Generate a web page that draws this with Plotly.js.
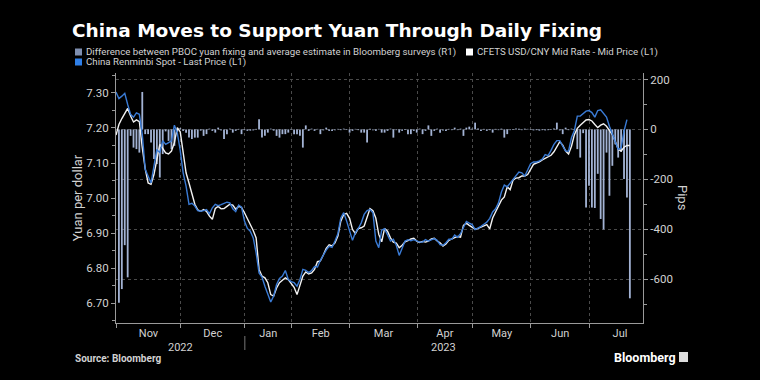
<!DOCTYPE html>
<html>
<head>
<meta charset="utf-8">
<script src="https://cdn.plot.ly/plotly-3.0.1.min.js"></script>
<style>
  html, body { margin: 0; padding: 0; background: #000; }
  #chart { width: 760px; height: 380px; }
</style>
</head>
<body>
<div id="chart"></div>
<script>
// ---------------- DATA ----------------
// China Renminbi Spot - Last Price (L1), one value per China trading day from 2022-10-31
const spot = [
  7.303,7.284,7.291,7.299,7.267,7.239,7.231,7.243,7.239,7.182,
  7.082,7.063,7.043,7.091,7.139,7.129,7.164,7.153,7.158,7.163,
  7.208,7.186,7.136,7.072,7.034,6.982,6.985,6.977,6.964,6.962,
  6.964,6.967,6.955,6.972,6.982,6.978,6.981,6.984,6.988,6.986,
  6.969,6.961,6.980,6.974,6.934,6.913,6.905,6.886,6.843,6.786,
  6.774,6.748,6.724,6.703,6.720,6.753,6.770,6.777,6.793,6.767,
  6.761,6.758,6.748,6.767,6.796,6.793,6.787,6.793,6.804,6.803,
  6.822,6.837,6.851,6.862,6.859,6.877,6.898,6.943,6.958,6.934,
  6.907,6.879,6.901,6.913,6.929,6.953,6.964,6.967,6.958,6.877,
  6.858,6.908,6.912,6.894,6.877,6.882,6.865,6.836,6.858,6.877,
  6.881,6.878,6.881,6.878,6.874,6.874,6.881,6.877,6.881,6.884,
  6.879,6.867,6.865,6.872,6.882,6.882,6.894,6.888,6.898,6.915,
  6.933,6.928,6.924,6.910,6.914,6.919,6.925,6.931,6.942,6.960,
  6.969,6.986,7.017,7.037,7.032,7.043,7.053,7.065,7.074,7.072,
  7.063,7.080,7.098,7.103,7.103,7.106,7.111,7.124,7.121,7.136,
  7.153,7.164,7.164,7.148,7.134,7.134,7.172,7.193,7.234,7.234,
  7.241,7.248,7.250,7.244,7.231,7.250,7.252,7.242,7.231,7.205,
  7.183,7.162,7.139,7.143,7.191,7.224,null
];
// CFETS USD/CNY Mid Rate - Mid Price (L1)
const cfets = [
  7.180,7.210,7.227,7.243,7.256,7.234,7.217,7.223,7.218,7.143,
  7.084,7.043,7.039,7.067,7.110,7.153,7.142,7.129,7.126,7.134,
  7.158,7.201,7.189,7.124,7.072,7.043,7.010,6.982,6.966,6.962,
  6.967,6.962,6.948,6.939,6.970,6.976,6.969,6.970,6.976,6.982,
  6.980,6.968,6.976,6.973,6.958,6.942,6.924,6.907,6.886,6.796,
  6.777,6.772,6.758,6.724,6.720,6.743,6.758,6.764,6.772,6.767,
  6.755,6.745,6.724,6.748,6.777,6.789,6.783,6.786,6.796,6.818,
  6.820,6.837,6.856,6.866,6.863,6.872,6.891,6.934,6.953,6.956,
  6.942,6.910,6.898,6.913,6.915,6.920,6.942,6.970,6.964,6.942,
  6.896,6.875,6.913,6.905,6.886,6.874,6.871,6.858,6.865,6.875,
  6.878,6.883,6.885,6.877,6.873,6.876,6.874,6.877,6.883,6.885,
  6.877,6.872,6.863,6.869,6.879,6.884,6.887,6.890,6.888,6.922,
  6.928,6.922,6.917,6.911,6.913,6.916,6.919,6.924,6.912,6.943,
  6.960,6.977,6.994,7.003,7.032,7.024,7.051,7.057,7.058,7.063,
  7.063,7.067,7.082,7.096,7.100,7.103,7.109,7.113,7.117,7.122,
  7.132,7.148,7.161,7.151,7.134,7.126,7.148,7.181,7.199,7.208,
  7.217,7.223,7.224,7.220,7.210,7.201,7.208,7.212,7.205,7.193,
  7.181,7.162,7.139,7.134,7.145,7.150,7.150
];
// Difference between PBOC yuan fixing and average estimate in Bloomberg surveys (R1), pips
const fixDiff = [
  null,-695,-640,-464,-593,-26,-73,-79,-93,150,
  -19,-19,-53,-119,-139,-193,-99,-8,-46,-79,
  -66,-10,5,-6,-13,-33,-39,-33,-33,-5,
  -26,-19,3,-6,-13,7,-4,-39,-19,3,
  -13,-6,2,-19,-3,-6,-5,-4,2,41,
  -33,-26,-13,3,-5,-26,-33,-19,-19,-13,
  2,-19,-19,-26,-73,16,-6,3,-6,2,
  -19,-4,7,-6,-6,-3,2,-3,3,-2,
  -13,-6,2,-3,-13,-13,-53,3,-3,-6,
  2,-13,-13,-6,3,-33,-3,-13,-6,2,
  -19,-19,-6,-13,3,-19,-6,16,-26,-6,
  3,-13,-4,-6,2,-3,7,-3,3,-26,
  7,11,3,27,4,-6,2,-6,-3,-13,
  2,-3,3,-33,-19,-3,2,4,3,-3,
  3,2,-2,-4,-3,-5,-3,-4,-3,-2,
  4,27,-4,-19,7,-3,3,-3,-79,-113,
  -15,-313,-226,-313,-315,-178,-359,-401,-93,-266,
  -146,-60,-113,-90,-199,-273,-677
];
const seriesNames = [
  'Difference between PBOC yuan fixing and average estimate in Bloomberg surveys (R1)',
  'CFETS USD/CNY Mid Rate - Mid Price (L1)',
  'China Renminbi Spot - Last Price (L1)'
];
const monthLabels = ['Nov','Dec','Jan','Feb','Mar','Apr','May','Jun','Jul'];
const yearLabels = ['2022','2023'];
const leftTicks = [7.30,7.20,7.10,7.00,6.90,6.80,6.70];
const leftTickText = ['7.30','7.20','7.10','7.00','6.90','6.80','6.70'];
const leftMinor = [7.35,7.25,7.15,7.05,6.95,6.85,6.75,6.65];
const rightTicks = [200,0,-200,-400,-600];
const rightTickText = ['200','0','-200','-400','-600'];
const rightMinor = [100,-100,-300,-500,-700];
// China onshore market holidays (weekdays) in the period
const holidays = ['2023-01-02','2023-01-23','2023-01-24','2023-01-25','2023-01-26','2023-01-27',
  '2023-04-05','2023-05-01','2023-05-02','2023-05-03','2023-06-22','2023-06-23'];

// ---------------- TRADING-DAY CALENDAR ----------------
function tradingDays(start, end) {
  const out = [];
  const d = new Date(start + 'T00:00:00Z');
  const e = new Date(end + 'T00:00:00Z');
  while (d <= e) {
    const wd = d.getUTCDay();
    const s = d.toISOString().slice(0, 10);
    if (wd !== 0 && wd !== 6 && holidays.indexOf(s) < 0) out.push(s);
    d.setUTCDate(d.getUTCDate() + 1);
  }
  return out;
}
const axisDays = tradingDays('2022-10-31', '2023-07-31');
const dates = axisDays.slice(0, spot.length);
const xIdx = dates.map((_, i) => i);

// month boundaries (index of first trading day in each month)
const firsts = [];
for (let i = 1; i < axisDays.length; i++) {
  if (axisDays[i].slice(0, 7) !== axisDays[i - 1].slice(0, 7)) firsts.push(i);
}
firsts.push(axisDays.length);
const OFF = 0.87;
const bounds = firsts.map(f => f - OFF);
const monthPos = monthLabels.map((_, k) => (bounds[k] + bounds[k + 1]) / 2);
const X_END = 180.5;
const janBound = bounds[2];
const yearPos = [(bounds[0] + janBound) / 2, (janBound + X_END) / 2];

// ---------------- GEOMETRY HELPERS (pixel -> paper) ----------------
const M = { l: 116, r: 117, t: 73, b: 57 };
const W = 760, H = 380;
const PW = W - M.l - M.r, PH = H - M.t - M.b;
const px = x => (x - M.l) / PW;
const py = y => (H - M.b - y) / PH;

const txt = '#d2d2d2';
const grid = '#4a4a4a';
const axc = '#9a9a9a';
const barColor = '#a3b3d4';
const spotColor = '#3a7bd5';
const cfetsColor = '#f2f2f2';
const baseFont = 'Roboto, "Open Sans", "DejaVu Sans", sans-serif';

const traces = [
  { type: 'bar', x: xIdx, y: fixDiff, yaxis: 'y', name: seriesNames[0],
    marker: { color: barColor, line: { width: 0 } }, showlegend: false, hoverinfo: 'skip' },
  { type: 'scatter', mode: 'lines', x: xIdx, y: cfets, yaxis: 'y2', name: seriesNames[1],
    line: { color: cfetsColor, width: 1.4 }, showlegend: false, hoverinfo: 'skip' },
  { type: 'scatter', mode: 'lines', x: xIdx, y: spot, yaxis: 'y2', name: seriesNames[2],
    line: { color: spotColor, width: 1.4 }, showlegend: false, hoverinfo: 'skip' }
];

// custom compact legend (squares + text)
const legendItems = [
  { name: seriesNames[0], color: '#7f8fb0', sx: 75, y: 52 },
  { name: seriesNames[1], color: '#ffffff', sx: 466, y: 52 },
  { name: seriesNames[2], color: '#2f7fe8', sx: 75, y: 62 }
];
const shapes = [];
const annotations = [];
legendItems.forEach(it => {
  shapes.push({ type: 'rect', xref: 'paper', yref: 'paper',
    x0: px(it.sx), x1: px(it.sx + 7), y0: py(it.y - 3.5), y1: py(it.y + 3.5),
    fillcolor: it.color, line: { width: 0 } });
  annotations.push({ xref: 'paper', yref: 'paper', x: px(it.sx + 8.5), y: py(it.y),
    xanchor: 'left', yanchor: 'middle', showarrow: false, text: it.name,
    font: { family: baseFont, size: 9.7, color: txt } });
});
// year labels and separator
yearLabels.forEach((t, k) => {
  annotations.push({ xref: 'x', yref: 'paper', x: yearPos[k], y: py(347),
    xanchor: 'center', yanchor: 'middle', showarrow: false, text: t,
    font: { family: baseFont, size: 11, color: txt } });
});
shapes.push({ type: 'line', xref: 'x', yref: 'paper', x0: janBound, x1: janBound,
  y0: py(336), y1: py(350), line: { color: '#777', width: 1 } });
// right axis title (reads top-to-bottom)
annotations.push({ xref: 'paper', yref: 'paper', x: px(683), y: py(198), textangle: 90,
  xanchor: 'center', yanchor: 'middle', showarrow: false, text: 'Pips',
  font: { family: baseFont, size: 13, color: txt } });
// footer
annotations.push({ xref: 'paper', yref: 'paper', x: px(73), y: py(358), xanchor: 'left', yanchor: 'middle',
  showarrow: false, text: '<b>Source: Bloomberg</b>', font: { family: baseFont, size: 10, color: txt } });
annotations.push({ xref: 'paper', yref: 'paper', x: px(612), y: py(357), xanchor: 'left', yanchor: 'middle',
  showarrow: false, text: '<b>Bloomberg</b>', font: { family: baseFont, size: 12.5, color: '#ffffff' } });
shapes.push({ type: 'rect', xref: 'paper', yref: 'paper', x0: px(679), x1: px(688), y0: py(362), y1: py(352),
  fillcolor: '#dddddd', line: { width: 0 } });

const layout = {
  width: W, height: H,
  margin: M,
  paper_bgcolor: '#000', plot_bgcolor: '#000',
  showlegend: false,
  bargap: 0.38,
  font: { family: baseFont, color: txt, size: 11.5 },
  title: { text: '<b>China Moves to Support Yuan Through Daily Fixing</b>',
    xref: 'container', yref: 'container', x: 72 / W, xanchor: 'left', y: 1 - 31 / H, yanchor: 'middle',
    font: { family: '"DejaVu Sans", "Open Sans", sans-serif', size: 18.5, color: '#ffffff' } },
  xaxis: {
    type: 'linear', range: [0, X_END], fixedrange: true,
    tickmode: 'array', tickvals: monthPos, ticktext: monthLabels, ticks: '',
    showgrid: false, zeroline: false,
    showline: true, linecolor: axc, linewidth: 1,
    tickfont: { family: baseFont, size: 11, color: txt },
    minor: { tickmode: 'array', tickvals: bounds, ticks: 'outside', ticklen: 4, tickcolor: axc,
      showgrid: true, gridcolor: grid, griddash: 'dot', gridwidth: 1 }
  },
  yaxis: {
    side: 'right', range: [-776, 226], fixedrange: true,
    tickmode: 'array', tickvals: rightTicks, ticktext: rightTickText,
    ticks: 'outside', ticklen: 4, tickcolor: axc,
    showgrid: true, gridcolor: grid, griddash: 'dot', gridwidth: 1, zeroline: false,
    showline: true, linecolor: axc, linewidth: 1,
    tickfont: { family: baseFont, size: 11.5, color: txt },
    minor: { tickmode: 'array', tickvals: rightMinor, ticks: 'outside', ticklen: 3, tickcolor: axc, showgrid: false }
  },
  yaxis2: {
    overlaying: 'y', side: 'left', range: [6.6429, 7.3571], fixedrange: true,
    tickmode: 'array', tickvals: leftTicks, ticktext: leftTickText,
    ticks: 'outside', ticklen: 4, tickcolor: axc,
    showgrid: false, zeroline: false,
    showline: true, linecolor: axc, linewidth: 1,
    tickfont: { family: baseFont, size: 11.5, color: txt },
    title: { text: 'Yuan per dollar', standoff: 0, font: { family: baseFont, size: 13, color: txt } },
    minor: { tickmode: 'array', tickvals: leftMinor, ticks: 'outside', ticklen: 3, tickcolor: axc, showgrid: false }
  },
  shapes: shapes,
  annotations: annotations
};

Plotly.newPlot('chart', traces, layout, { displayModeBar: false, staticPlot: true });
</script>
</body>
</html>
